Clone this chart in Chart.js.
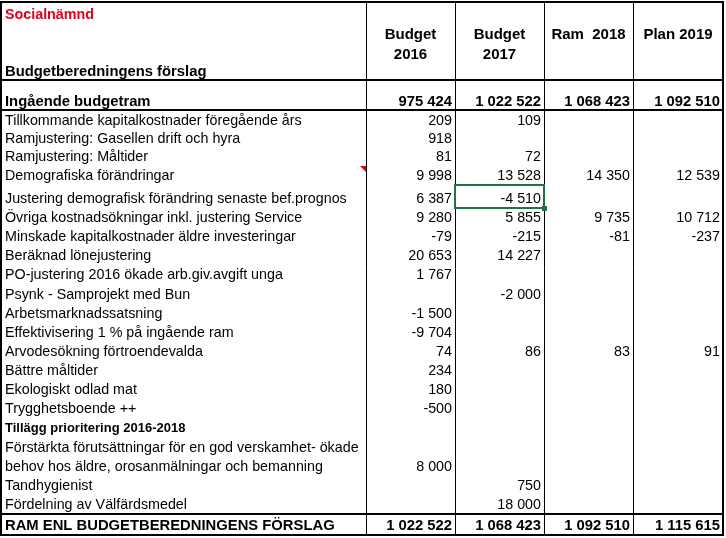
<!DOCTYPE html>
<html><head><meta charset="utf-8">
<script src="https://cdn.jsdelivr.net/npm/chart.js@4/dist/chart.umd.min.js"></script>
<style>html,body{margin:0;padding:0;background:#fff;overflow:hidden}canvas{display:block}</style>
</head><body>
<canvas id="c" width="726" height="538"></canvas>
<script>
// ---- DATA ----
const title = "Socialnämnd";
const subtitle = "Budgetberedningens förslag";
const columnHeaders = [["Budget", "2016"], ["Budget", "2017"], ["Ram  2018"], ["Plan 2019"]];
const rowLabels = [
  "Ingående budgetram",
  "Tillkommande kapitalkostnader föregående års",
  "Ramjustering: Gasellen drift och hyra",
  "Ramjustering: Måltider",
  "Demografiska förändringar",
  "Justering demografisk förändring senaste bef.prognos",
  "Övriga kostnadsökningar inkl. justering Service",
  "Minskade kapitalkostnader äldre investeringar",
  "Beräknad lönejustering",
  "PO-justering 2016 ökade arb.giv.avgift unga",
  "Psynk - Samprojekt med Bun",
  "Arbetsmarknadssatsning",
  "Effektivisering 1 % på ingående ram",
  "Arvodesökning förtroendevalda",
  "Bättre måltider",
  "Ekologiskt odlad mat",
  "Trygghetsboende ++",
  "Tillägg prioritering 2016-2018",
  ["Förstärkta förutsättningar för en god verskamhet- ökade", "behov hos äldre, orosanmälningar och bemanning"],
  "Tandhygienist",
  "Fördelning av Välfärdsmedel",
  "RAM ENL BUDGETBEREDNINGENS FÖRSLAG"
];
const budget2016 = [975424, 209, 918, 81, 9998, 6387, 9280, -79, 20653, 1767, null, -1500, -9704, 74, 234, 180, -500, null, 8000, null, null, 1022522];
const budget2017 = [1022522, 109, null, 72, 13528, -4510, 5855, -215, 14227, null, -2000, null, null, 86, null, null, null, null, null, 750, 18000, 1068423];
const ram2018 = [1068423, null, null, null, 14350, null, 9735, -81, null, null, null, null, null, 83, null, null, null, null, null, null, null, 1092510];
const plan2019 = [1092510, null, null, null, 12539, null, 10712, -237, null, null, null, null, null, 91, null, null, null, null, null, null, null, 1115615];
const series = [budget2016, budget2017, ram2018, plan2019];

// ---- LAYOUT / STYLE ----
const W = 726, H = 538;
const colEdges = [1, 366, 455, 544, 633, 723];
const tableTop = 2, headerBottom = 80;
const rowHeights = [29, 21, 18, 18, 19, 23, 19, 19, 19, 19, 20, 19, 19, 19, 19, 19, 19, 19, 39, 19, 19, 21];
const boldRows = [0, 21];
const smallBoldRows = [17];
const FONT = "'Liberation Sans', Arial, sans-serif";
const F_NORMAL = "14.3px " + FONT;
const F_BOLD = "bold 14.8px " + FONT;
const F_SMALLBOLD = "bold 13px " + FONT;
const rowBottoms = [];
{ let y = headerBottom; rowHeights.forEach(h => { y += h; rowBottoms.push(y); }); }
const textY = r => rowBottoms[r] - (r === 21 ? 9.5 : r === 0 ? 7.5 : 8.5);

function fmt(v) {
  const s = Math.abs(v).toString().replace(/\B(?=(\d{3})+(?!\d))/g, " ");
  return (v < 0 ? "-" : "") + s;
}

const datasets = series.map((vals, c) => ({
  label: columnHeaders[c].join(" "),
  data: vals.map((v, r) => v === null ? null : { x: colEdges[c + 2] - 3, y: textY(r), v: v, r: r }).filter(p => p),
  pointRadius: 0, showLine: false
}));

const tablePlugin = {
  id: 'table',
  beforeDraw(chart) {
    const ctx = chart.ctx;
    ctx.save(); ctx.fillStyle = '#fff'; ctx.fillRect(0, 0, W, H); ctx.restore();
  },
  afterDatasetsDraw(chart) {
    const ctx = chart.ctx, xs = chart.scales.x, ys = chart.scales.y;
    const px = v => xs.getPixelForValue(v), py = v => ys.getPixelForValue(v);
    ctx.save();
    ctx.textBaseline = 'middle';
    // title
    ctx.fillStyle = '#e3001b';
    ctx.font = "bold 14.3px " + FONT;
    ctx.textAlign = 'left';
    ctx.fillText(title, px(5), py(15.5));
    ctx.fillStyle = '#000';
    ctx.font = F_BOLD;
    ctx.fillText(subtitle, px(5), py(71.5));
    // column headers
    ctx.textAlign = 'center';
    ctx.font = "bold 15px " + FONT;
    columnHeaders.forEach((lines, c) => {
      const cx = (colEdges[c + 1] + colEdges[c + 2]) / 2;
      lines.forEach((t, i) => ctx.fillText(t, px(cx), py(34.5 + i * 20)));
    });
    // row labels
    ctx.textAlign = 'left';
    rowLabels.forEach((lab, r) => {
      if (boldRows.includes(r)) ctx.font = F_BOLD;
      else if (smallBoldRows.includes(r)) ctx.font = F_SMALLBOLD;
      else ctx.font = F_NORMAL;
      if (Array.isArray(lab)) {
        lab.forEach((t, i) => ctx.fillText(t, px(5), py(textY(r) - (lab.length - 1 - i) * 19)));
      } else ctx.fillText(lab, px(5), py(textY(r)));
    });
    // values through scales
    ctx.textAlign = 'right';
    chart.data.datasets.forEach((ds, di) => {
      const meta = chart.getDatasetMeta(di);
      meta.data.forEach((el, i) => {
        const p = ds.data[i];
        ctx.font = boldRows.includes(p.r) ? F_BOLD : F_NORMAL;
        ctx.fillText(fmt(p.v), el.x, el.y);
      });
    });
    // grid
    ctx.strokeStyle = '#000';
    ctx.lineWidth = 1;
    for (let i = 1; i < colEdges.length - 1; i++) {
      ctx.beginPath(); ctx.moveTo(px(colEdges[i]) + 0.5, py(tableTop)); ctx.lineTo(px(colEdges[i]) + 0.5, py(rowBottoms[21])); ctx.stroke();
    }
    ctx.lineWidth = 2;
    [headerBottom, rowBottoms[0] + 1, rowBottoms[20]].forEach(y => {
      ctx.beginPath(); ctx.moveTo(px(colEdges[0]), py(y)); ctx.lineTo(px(colEdges[5]), py(y)); ctx.stroke();
    });
    ctx.strokeRect(px(colEdges[0]), py(tableTop), px(colEdges[5]) - px(colEdges[0]), py(rowBottoms[21]) - py(tableTop));
    // selected cell (green)
    ctx.strokeStyle = '#217346';
    ctx.lineWidth = 2;
    ctx.strokeRect(px(colEdges[2]), py(rowBottoms[4]), px(colEdges[3]) - px(colEdges[2]), py(rowBottoms[5]) - py(rowBottoms[4]));
    ctx.fillStyle = '#217346';
    ctx.fillRect(px(colEdges[3]) - 2, py(rowBottoms[5]) - 2, 5, 5);
    // comment marker
    ctx.fillStyle = '#e3001b';
    ctx.beginPath();
    ctx.moveTo(px(colEdges[1]) - 6, py(rowBottoms[3]));
    ctx.lineTo(px(colEdges[1]), py(rowBottoms[3]));
    ctx.lineTo(px(colEdges[1]), py(rowBottoms[3]) + 6);
    ctx.closePath(); ctx.fill();
    ctx.restore();
  }
};

new Chart(document.getElementById('c'), {
  type: 'scatter',
  data: { datasets },
  options: {
    responsive: false, animation: false, devicePixelRatio: 1,
    layout: { padding: 0 },
    plugins: { legend: { display: false }, tooltip: { enabled: false } },
    scales: {
      x: { type: 'linear', min: 0, max: W, display: false },
      y: { type: 'linear', min: 0, max: H, reverse: true, display: false }
    }
  },
  plugins: [tablePlugin]
});
</script>
</body></html>
